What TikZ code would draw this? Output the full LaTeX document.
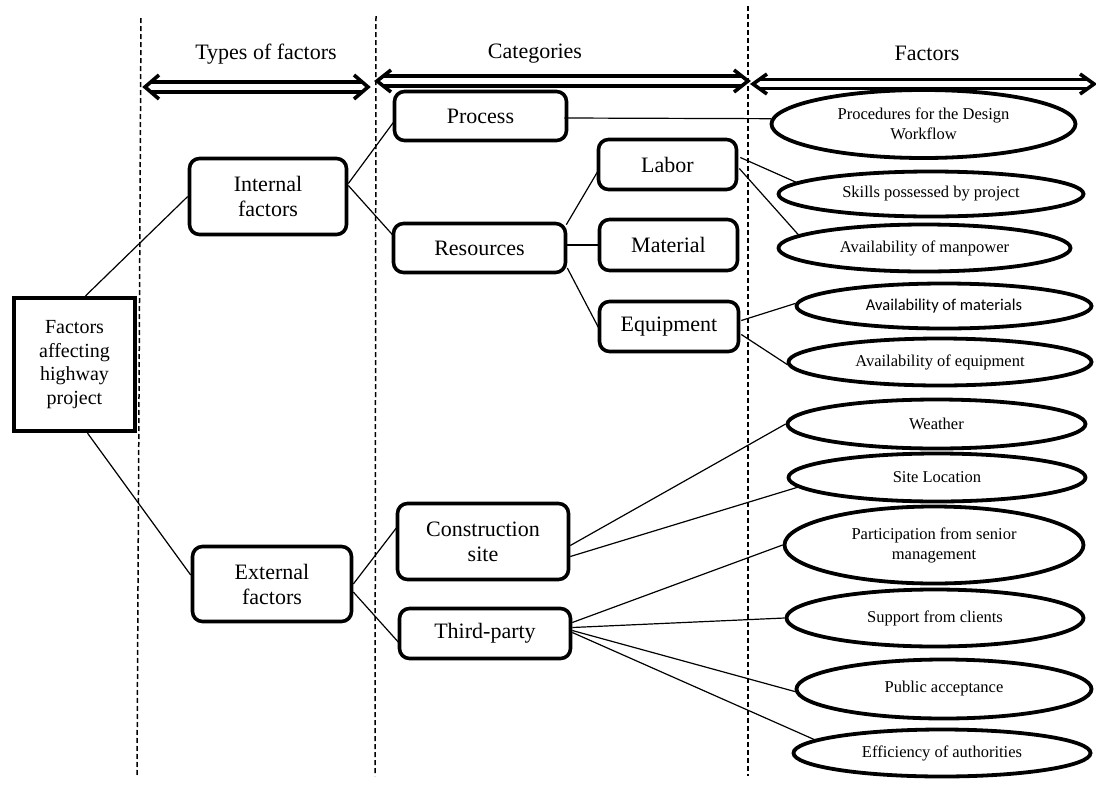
\documentclass[tikz,border=0pt]{standalone}
\usepackage{fontspec}
\setmainfont{Liberation Serif}
\newfontfamily\calib{Carlito}
\usetikzlibrary{shapes.geometric,calc}
\begin{document}
\begin{tikzpicture}[x=1pt,y=-1pt,
  rbox/.style={draw, line width=3.6pt, rounded corners=10pt, align=center, inner sep=0pt, font=\fontsize{22}{25}\selectfont},
  mainbox/.style={draw, line width=4.2pt, align=center, inner sep=0pt, font=\fontsize{20}{23.5}\selectfont},
  ell/.style={draw, ellipse, line width=3.8pt, inner sep=0pt, align=center, font=\fontsize{16.5}{20}\selectfont},
  conn/.style={line width=1.2pt},
  divider/.style={line width=1.5pt, dash pattern=on 5pt off 3pt},
  harrow/.style={line width=3.6pt, line join=miter},
  headtext/.style={font=\fontsize{22}{25}\selectfont}]
\useasboundingbox (0,0) rectangle (1096,793);

% dividers
\draw[divider] (141,18) -- (137,776);
\draw[divider] (376,16) -- (375,776);
\draw[divider] (748,6) -- (748,776);

% headers
\node[headtext] (h1) at (266,54) {Types of factors};
\node[headtext] (h2) at (535,54) {Categories};
\node[headtext] (h3) at (927,53) {Factors};

% double arrows
\foreach \xa/\xb/\cy/\sw/\hh in {145/368/87/5/12, 377/748/81/5/11, 753/1094/84/4.5/10}{
  \draw[harrow] (\xa+14,\cy-\hh) -- (\xa,\cy) -- (\xa+14,\cy+\hh);
  \draw[harrow] (\xb-14,\cy-\hh) -- (\xb,\cy) -- (\xb-14,\cy+\hh);
  \draw[harrow] (\xa+6,\cy-\sw) -- (\xb-6,\cy-\sw);
  \draw[harrow] (\xa+6,\cy+\sw) -- (\xb-6,\cy+\sw);
}

% main box
\node[mainbox, minimum width=121, minimum height=133] (main) at (74.5,364.5) {Factors\\affecting\\highway\\project};

% types
\node[rbox, minimum width=157, minimum height=76] (int) at (268,196.5) {Internal\\factors};
\node[rbox, minimum width=159, minimum height=75] (ext) at (272,584) {External\\factors};

% categories
\node[rbox, minimum width=172, minimum height=49] (proc) at (480.5,116) {Process};
\node[rbox, minimum width=172, minimum height=49] (res) at (479.5,248) {Resources};
\node[rbox, minimum width=138, minimum height=50] (lab) at (667.5,164.5) {Labor};
\node[rbox, minimum width=138, minimum height=51] (mat) at (668.5,245) {Material};
\node[rbox, minimum width=139, minimum height=50] (equ) at (669,326.5) {Equipment};
\node[rbox, minimum width=171, minimum height=76] (con) at (483,541.5) {Construction\\site};
\node[rbox, minimum width=171, minimum height=50] (thp) at (485,633.5) {Third-party};

% factors
\node[ell, minimum width=304, minimum height=68] (pro) at (923.5,124) {Procedures for the Design\\Workflow};
\node[ell, minimum width=305, minimum height=45] (ski) at (931,194) {Skills possessed by project};
\node[ell, minimum width=292, minimum height=47] (man) at (924.5,248) {Availability of manpower};
\node[ell, minimum width=295, minimum height=45, font=\calib\fontsize{16.5}{20}\selectfont] (mts) at (944,306) {Availability of materials};
\node[ell, minimum width=303, minimum height=47] (eqe) at (940,362) {Availability of equipment};
\node[ell, minimum width=298, minimum height=49] (wea) at (936.5,424) {Weather};
\node[ell, minimum width=297, minimum height=48] (sit) at (937,477.5) {Site Location};
\node[ell, minimum width=299, minimum height=77] (par) at (934,545) {Participation from senior\\management};
\node[ell, minimum width=297, minimum height=57] (sup) at (935,618) {Support from clients};
\node[ell, minimum width=295, minimum height=59] (pub) at (944,689) {Public acceptance};
\node[ell, minimum width=297, minimum height=47] (eff) at (942,753) {Efficiency of authorities};

% connectors
\draw[conn] ($(main.north)+(11,0)$) -- (int.west);
\draw[conn] ($(main.south)+(13,0)$) -- ($(ext.west)+(0,-9)$);
\draw[conn] ($(int.east)+(0,-13)$) -- ($(proc.west)+(1,6)$);
\draw[conn] ($(int.east)+(0,-11)$) -- ($(res.west)+(1,-13)$);
\draw[conn] ($(proc.east)+(-4,2)$) -- (pro.178);
\draw[conn] ($(res.north east)+(-1,3)$) -- ($(lab.west)+(1,7)$);
\draw[conn] (res.east |- mat.west) -- (mat.west);
\draw[conn] ($(res.east)+(0,20)$) -- ($(equ.west)+(1,1.5)$);
\draw[conn] ($(lab.east)+(2,-7)$) -- (ski.175);
\draw[conn] ($(lab.east)+(1,4)$) -- (man.174);
\draw[conn] ($(equ.east)+(1,-6)$) -- (mts.179);
\draw[conn] ($(equ.east)+(1,8)$) -- (eqe.181);
\draw[conn] (ext.east) -- ($(con.west)+(1,-14)$);
\draw[conn] ($(ext.east)+(0,8)$) -- ($(thp.west)+(1,9)$);
\draw[conn] ($(con.east)+(0,4)$) -- (wea.180);
\draw[conn] ($(con.east)+(0,15)$) -- (sit.184);
\draw[conn] ($(thp.east)+(0,-11)$) -- (par.180);
\draw[conn] ($(thp.east)+(0,-6)$) -- (sup.180);
\draw[conn] ($(thp.east)+(0,-3)$) -- (pub.181);
\draw[conn] ($(thp.east)+(0,-1)$) -- (eff.174);
\end{tikzpicture}
\end{document}
